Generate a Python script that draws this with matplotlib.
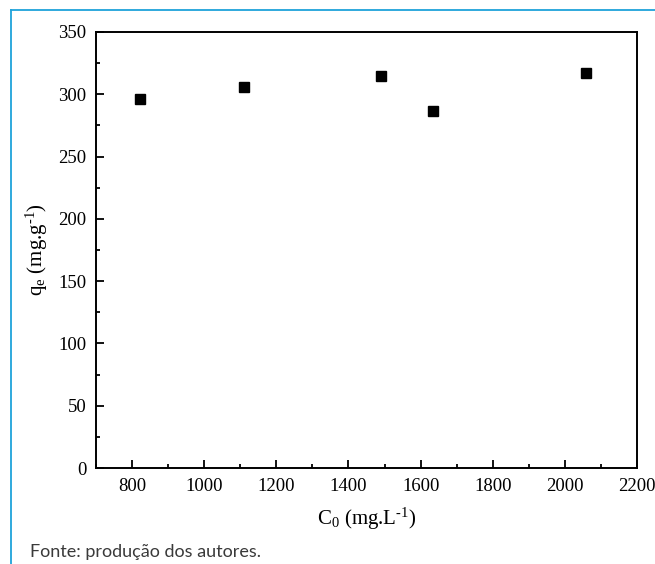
import matplotlib
matplotlib.use("Agg")
import matplotlib.pyplot as plt
from matplotlib.ticker import MultipleLocator
from matplotlib.lines import Line2D

plt.rcParams["font.family"] = "Liberation Serif"
plt.rcParams["mathtext.fontset"] = "custom"
plt.rcParams["mathtext.rm"] = "Liberation Serif"
plt.rcParams["mathtext.it"] = "Liberation Serif"
plt.rcParams["mathtext.default"] = "regular"

# dados
c0 = [821, 1109, 1490, 1635, 2060]
qe = [296, 305.5, 315, 286.5, 317]

x_ticks = [800, 1000, 1200, 1400, 1600, 1800, 2000, 2200]
y_ticks = [0, 50, 100, 150, 200, 250, 300, 350]

TEAL = "#1fa3da"

fig = plt.figure(figsize=(6.55, 5.64), dpi=100)
ax = fig.add_axes([0.1466, 0.1702, 0.8259, 0.7731])

ax.plot(c0, qe, ls="none", marker="s", ms=6.8, color="black")

ax.set_xlim(700, 2200)
ax.set_ylim(0, 350)
ax.set_xticks(x_ticks)
ax.set_yticks(y_ticks)
ax.xaxis.set_minor_locator(MultipleLocator(100))
ax.yaxis.set_minor_locator(MultipleLocator(25))
ax.tick_params(which="both", direction="in", top=False, right=False,
               labelsize=13.5, width=1.3, pad=7)
ax.tick_params(which="major", length=6)
ax.tick_params(which="minor", length=3)
for s in ax.spines.values():
    s.set_linewidth(1.4)

ax.set_xlabel("C$_0$ (mg.L$^{\u2010 1}$)", fontsize=15, labelpad=8)
ax.set_ylabel("q$_e$ (mg.g$^{\u2010 1}$)", fontsize=15, labelpad=6)

# moldura azul do quadro
fig.add_artist(Line2D([11 / 655, 11 / 655], [0, 1 - 10 / 564],
                      color=TEAL, lw=1.3, transform=fig.transFigure))
fig.add_artist(Line2D([11 / 655, 1], [1 - 10 / 564, 1 - 10 / 564],
                      color=TEAL, lw=1.3, transform=fig.transFigure))

fig.text(30 / 655, 1 - 552 / 564, "Fonte: produção dos autores.",
         family="Lato", fontsize=13, color="#3a3a3a",
         va="center", ha="left")

fig.savefig("out.png", dpi=100)
